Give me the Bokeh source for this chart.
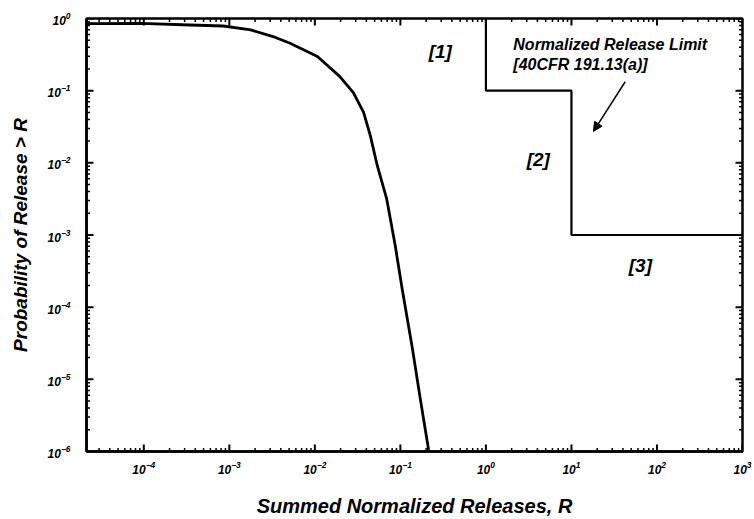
import math
from bokeh.plotting import figure
from bokeh.models import FixedTicker, Arrow, NormalHead, Label
from bokeh.embed import file_html
from bokeh.resources import INLINE

# ---- data ----
curve_logR = [-4.67, -4.04, -3.46, -3.07, -2.75, -2.49, -2.29, -1.97, -1.71, -1.55, -1.43,
              -1.35, -1.27, -1.16, -1.06, -0.98, -0.86, -0.77, -0.67]
curve_logP = [-0.07, -0.068, -0.09, -0.104, -0.158, -0.25, -0.342, -0.526, -0.802, -1.026, -1.30,
              -1.63, -2.04, -2.50, -3.15, -3.74, -4.57, -5.25, -5.98]
curve_R = [10 ** v for v in curve_logR]
curve_P = [10 ** v for v in curve_logP]

limit_R = [1, 1, 10, 10, 1000]
limit_P = [1, 0.1, 0.1, 1e-3, 1e-3]

x_decades = [1e-4, 1e-3, 1e-2, 1e-1, 1e0, 1e1, 1e2, 1e3]
y_decades = [1e-6, 1e-5, 1e-4, 1e-3, 1e-2, 1e-1, 1e0]
x_start, x_end = 10 ** -4.67, 1e3
y_start, y_end = 1e-6, 1.0

region_labels = ["[1]", "[2]", "[3]"]
region_R = [0.293, 4.1, 64.0]
region_P = [0.345, 0.0112, 3.8e-4]

note_lines = ["Normalized Release Limit", "[40CFR 191.13(a)]"]
note_R = 2.09
note_P = [0.43, 0.229]
arrow_from = (42.5, 0.133)
arrow_to = (18.1, 0.0273)

FONT = "Liberation Sans"

def minor_for(decades, lo, hi):
    out = []
    for d in [decades[0] / 10] + decades:
        for k in range(2, 10):
            v = d * k
            if lo < v < hi:
                out.append(v)
    return out

x_minor = minor_for(x_decades, x_start, x_end)
y_minor = minor_for(y_decades, y_start, y_end)

p = figure(width=752, height=519, x_axis_type="log", y_axis_type="log",
           x_range=(x_start, x_end), y_range=(y_start, y_end),
           output_backend="svg", toolbar_location=None,
           min_border_left=86, min_border_right=10, min_border_top=18, min_border_bottom=65)
p.xgrid.visible = False
p.ygrid.visible = False
p.outline_line_color = "black"
p.outline_line_width = 2.5

for ax, ticks, minor in ((p.xaxis[0], x_decades, x_minor), (p.yaxis[0], y_decades, y_minor)):
    ax.ticker = FixedTicker(ticks=ticks, minor_ticks=minor)
    ax.axis_line_width = 2.5
    ax.axis_line_color = "black"
    ax.major_tick_in = 0
    ax.major_tick_out = 0
    ax.minor_tick_in = 0
    ax.minor_tick_out = 0
    ax.major_label_text_font = FONT
    ax.major_label_text_font_style = "bold italic"
    ax.major_label_text_font_size = "12px"
    ax.major_label_text_color = "black"
    ax.axis_label_text_font = FONT
    ax.axis_label_text_font_style = "bold italic"
    ax.axis_label_text_color = "black"

p.xaxis[0].major_label_standoff = 9
p.yaxis[0].major_label_standoff = 16
p.xaxis[0].axis_label = "Summed Normalized Releases, R"
p.yaxis[0].axis_label = "Probability of Release > R"
p.xaxis[0].axis_label_text_font_size = "20px"
p.yaxis[0].axis_label_text_font_size = "19px"
p.xaxis[0].axis_label_standoff = 18
p.yaxis[0].axis_label_standoff = 14

# inward ticks on all four sides (markers at the frame edges, clipped to the frame)
tick_kw = dict(marker="dash", line_color="black", fill_color="black")
for edge in (y_start, y_end):
    p.scatter(x_decades, [edge] * len(x_decades), angle=math.pi / 2, size=14, line_width=2, **tick_kw)
    p.scatter(x_minor, [edge] * len(x_minor), angle=math.pi / 2, size=7, line_width=1.5, **tick_kw)
for edge in (x_start, x_end):
    p.scatter([edge] * len(y_decades), y_decades, size=14, line_width=2, **tick_kw)
    p.scatter([edge] * len(y_minor), y_minor, size=7, line_width=1.5, **tick_kw)

p.line(curve_R, curve_P, line_color="black", line_width=2.8, line_join="round")
p.line(limit_R, limit_P, line_color="black", line_width=2.2)

for t, rx, ry in zip(region_labels, region_R, region_P):
    p.add_layout(Label(x=rx, y=ry, text=t, text_font=FONT, text_font_style="bold italic",
                       text_font_size="19px", text_align="center", text_baseline="middle",
                       text_color="black"))
for t, ry in zip(note_lines, note_P):
    p.add_layout(Label(x=note_R, y=ry, text=t, text_font=FONT, text_font_style="bold italic",
                       text_font_size="16px", text_align="left", text_baseline="middle",
                       text_color="black"))

p.add_layout(Arrow(x_start=arrow_from[0], y_start=arrow_from[1], x_end=arrow_to[0], y_end=arrow_to[1],
                   line_width=1.5, line_color="black",
                   end=NormalHead(size=9, fill_color="black", line_color="black")))

open("out.html", "w").write(file_html(p, INLINE))
